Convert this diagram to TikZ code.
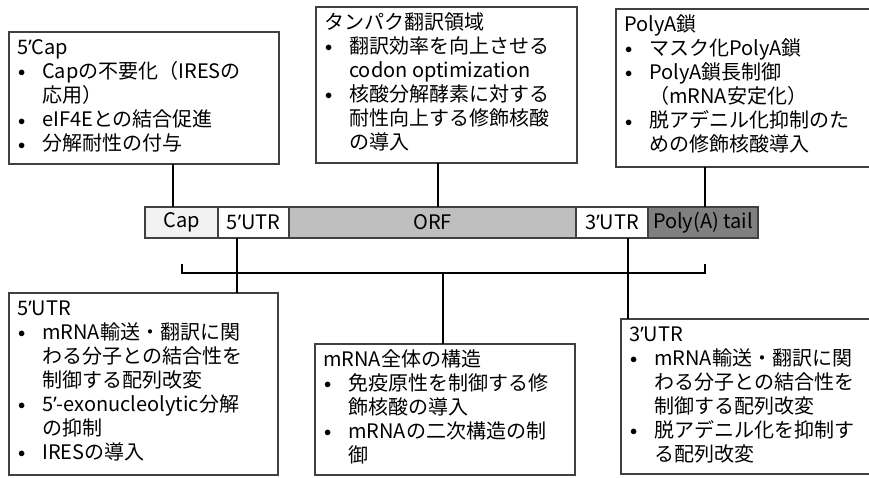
\documentclass[tikz,border=0pt]{standalone}
\usepackage{fontspec}
\setmainfont{Noto Sans CJK JP}
\newfontfamily\latinfont{Noto Sans}
\usetikzlibrary{positioning}

\newcommand{\itm}{\makebox[25pt][l]{\hspace{1pt}\raisebox{1.5pt}{\fontsize{15}{15}\selectfont$\bullet$}}}
\newcommand{\cnt}{\hspace*{25pt}}
\newcommand{\ap}{{\latinfont ’}}

\begin{document}
\begin{tikzpicture}[x=1pt, y=-1pt,
    note/.style={draw=black!75, line width=1.2pt, fill=white, anchor=north west, inner sep=0pt, outer sep=0pt},
    notetext/.style={anchor=north west, inner sep=0pt, xshift=8pt, yshift=-5pt, font=\fontsize{20}{24}\selectfont},
    seg/.style={draw=black!75, line width=2pt, minimum height=31pt, inner sep=0pt, outer sep=0pt, font=\fontsize{20}{24}\selectfont},
    link/.style={line width=1.6pt}]
    \useasboundingbox (0,0) rectangle (869,477);
    \clip (0,0) rectangle (869,477);
    \fill [white] (0,0) rectangle (869,477);
    % upper notes
    \node [note, minimum width=270pt, minimum height=132pt] (capnote) at (9,32) {};
    \node [notetext] (captext) at (capnote.north west) {\begin{tabular}{@{}l@{}}
        5\ap Cap\\ \itm Capの不要化（IRESの\\ \cnt 応用）\\ \itm eIF4Eとの結合促進\\ \itm 分解耐性の付与
    \end{tabular}};
    \node [note, minimum width=261pt, minimum height=156pt] (orfnote) at (316,7) {};
    \node [notetext] (orftext) at (orfnote.north west) {\begin{tabular}{@{}l@{}}
        タンパク翻訳領域\\ \itm 翻訳効率を向上させる\\ \cnt codon optimization\\ \itm 核酸分解酵素に対する\\ \cnt 耐性向上する修飾核酸\\ \cnt の導入
    \end{tabular}};
    \node [note, minimum width=260pt, minimum height=158pt] (polynote) at (616,9) {};
    \node [notetext] (polytext) at (polynote.north west) {\begin{tabular}{@{}l@{}}
        PolyA鎖\\ \itm マスク化PolyA鎖\\ \itm PolyA鎖長制御\\ \cnt （mRNA安定化）\\ \itm 脱アデニル化抑制のた\\ \cnt めの修飾核酸導入
    \end{tabular}};
    % lower notes
    \node [note, minimum width=269pt, minimum height=182pt] (utr5note) at (9,293) {};
    \node [notetext] (utr5text) at (utr5note.north west) {\begin{tabular}{@{}l@{}}
        5\ap UTR\\ \itm mRNA輸送・翻訳に関\\ \cnt わる分子との結合性を\\ \cnt 制御する配列改変\\ \itm 5\ap-exonucleolytic分解\\ \cnt の抑制\\ \itm IRESの導入
    \end{tabular}};
    \node [note, minimum width=260pt, minimum height=131pt] (wholenote) at (315,344) {};
    \node [notetext] (wholetext) at (wholenote.north west) {\begin{tabular}{@{}l@{}}
        mRNA全体の構造\\ \itm 免疫原性を制御する修\\ \cnt 飾核酸の導入\\ \itm mRNAの二次構造の制\\ \cnt 御
    \end{tabular}};
    \node [note, minimum width=255pt, minimum height=155pt] (utr3note) at (621,319) {};
    \node [notetext] (utr3text) at (utr3note.north west) {\begin{tabular}{@{}l@{}}
        3\ap UTR\\ \itm mRNA輸送・翻訳に関\\ \cnt わる分子との結合性を\\ \cnt 制御する配列改変\\ \itm 脱アデニル化を抑制す\\ \cnt る配列改変
    \end{tabular}};
    % the mRNA bar
    \node [seg, fill=black!5, minimum width=73pt, anchor=west] (capseg) at (145,222.5) {Cap};
    \node [seg, fill=white, minimum width=71pt, right=0pt of capseg] (utr5seg) {5\ap UTR};
    \node [seg, fill=black!25, minimum width=287pt, right=0pt of utr5seg] (orfseg) {ORF};
    \node [seg, fill=white, minimum width=72pt, right=0pt of orfseg] (utr3seg) {3\ap UTR};
    \node [seg, fill=black!50, minimum width=110pt, right=0pt of utr3seg] (polyseg) {Poly(A) tail};
    % connectors
    \draw [link] ([xshift=-8.5pt]capseg.north) -- ([xshift=-8.5pt]capseg.north |- capnote.south);
    \draw [link] ([xshift=5.5pt]orfseg.north) -- ([xshift=5.5pt]orfseg.north |- orfnote.south);
    \draw [link] ([xshift=2pt]polyseg.north) -- ([xshift=2pt]polyseg.north |- polynote.south);
    \draw [link] ([xshift=-16.5pt]utr5seg.south) -- ([xshift=-16.5pt]utr5seg.south |- utr5note.north);
    \draw [link] ([xshift=16pt]utr3seg.south) -- ([xshift=16pt]utr3seg.south |- utr3note.north);
    \coordinate (brl) at (182,264);
    \coordinate (brr) at (705,264);
    \draw [link] (brl) -- ++(0,9) -| (brr);
    \draw [link] ([xshift=-2pt]wholenote.north) -- ++(0,-71);
\end{tikzpicture}
\end{document}
